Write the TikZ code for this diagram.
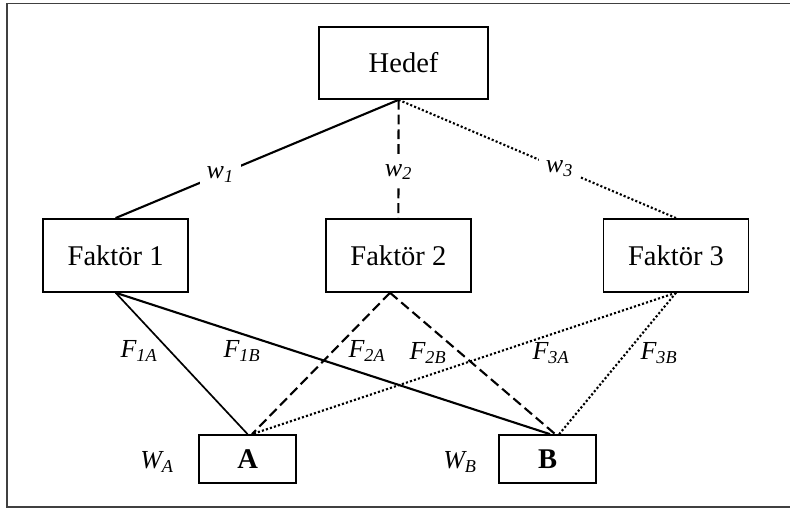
\documentclass[tikz,border=0pt]{standalone}
\usepackage{fontspec}
\setmainfont{Liberation Serif}

\begin{document}
\begin{tikzpicture}[scale=1,
    box/.style={draw, line width=1.2pt, inner sep=0pt, font=\fontsize{20.3}{24}\selectfont},
    lbl/.style={font=\fontsize{18.5}{22}\selectfont\itshape, inner sep=1pt},
    gap/.style={fill=white, inner xsep=5pt, inner ysep=4.5pt},
    link/.style={line width=1.5pt},
    dash link/.style={line width=1.5pt, dash pattern=on 7pt off 3.5pt},
    dot link/.style={line width=1.5pt, dash pattern=on 1.5pt off 1.5pt}]
    \useasboundingbox (0,0) rectangle (19.75,12.725);
    \draw[line width=1.2pt, black!75] (0.175,0.05) rectangle (19.95,12.64);
    % boxes
    \node[box, minimum width=4.225cm, minimum height=1.8cm] (hedef) at (10.09,11.15) {Hedef};
    \node[box, minimum width=3.625cm, minimum height=1.825cm] (f1) at (2.89,6.34) {Faktör 1};
    \node[box, minimum width=3.625cm, minimum height=1.825cm] (f2) at (9.96,6.34) {Faktör 2};
    \node[box, minimum width=3.625cm, minimum height=1.825cm] (f3) at (16.9,6.34) {Faktör 3};
    \node[box, minimum width=2.425cm, minimum height=1.2cm, font=\fontsize{20.3}{24}\selectfont\bfseries] (a) at (6.19,1.25) {A};
    \node[box, minimum width=2.425cm, minimum height=1.2cm, font=\fontsize{20.3}{24}\selectfont\bfseries] (b) at (13.69,1.25) {B};
    \coordinate (top) at ([xshift=-0.125cm]hedef.south);
    % weights of the factors
    \draw[link] (top) -- node[lbl, gap, pos=0.63] {w\textsubscript{1}} (f1.north);
    \draw[dash link] (top) -- node[lbl, gap, pos=0.61] {w\textsubscript{2}} (f2.north);
    \draw[dot link] (top) -- node[lbl, gap, pos=0.58] {w\textsubscript{3}} (f3.north);
    % factors to the alternatives
    \draw[link, line width=1.2pt] (f1.south) -- (a.north);
    \draw[link] (f1.south) -- ([xshift=0.06cm]b.north);
    \draw[dash link] ([xshift=-0.21cm]f2.south) -- ([xshift=0.11cm]a.north);
    \draw[dash link] ([xshift=-0.21cm]f2.south) -- ([xshift=0.19cm]b.north);
    \draw[dot link] (f3.south) -- ([xshift=0.11cm]a.north);
    \draw[dot link] (f3.south) -- ([xshift=0.29cm]b.north);
    \node[lbl] (f1a) at (3.475,3.95) {F\textsubscript{1A}};
    \node[lbl] (f1b) at (6.05,3.95) {F\textsubscript{1B}};
    \node[lbl] (f2a) at (9.175,3.95) {F\textsubscript{2A}};
    \node[lbl] (f2b) at (10.7,3.9) {F\textsubscript{2B}};
    \node[lbl] (f3a) at (13.775,3.9) {F\textsubscript{3A}};
    \node[lbl] (f3b) at (16.475,3.9) {F\textsubscript{3B}};
    \node[lbl] (wa) at (3.925,1.175) {W\textsubscript{A}};
    \node[lbl] (wb) at (11.5,1.175) {W\textsubscript{B}};
\end{tikzpicture}
\end{document}
